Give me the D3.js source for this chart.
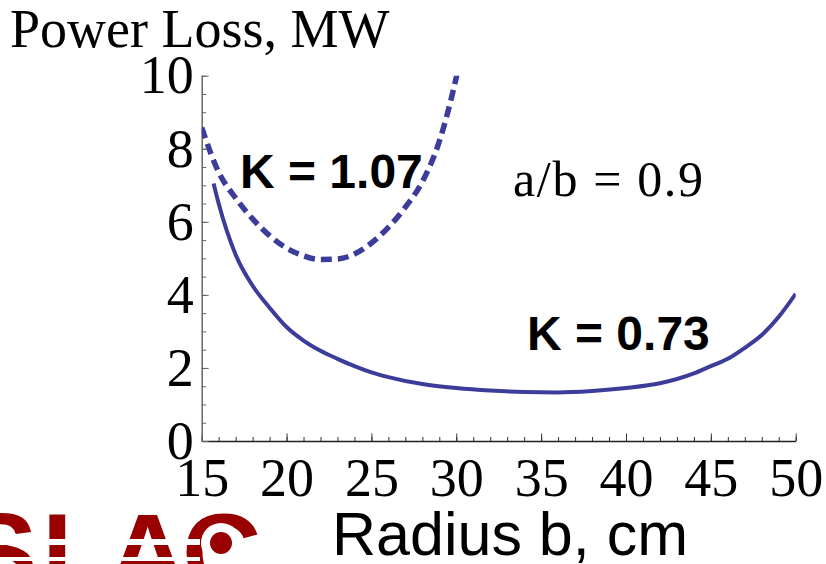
<!DOCTYPE html>
<html>
<head>
<meta charset="utf-8">
<script src="https://cdn.jsdelivr.net/npm/d3@7"></script>
<style>
  body { margin: 0; background: #fff; }
  svg { display: block; }
</style>
</head>
<body>
<div id="chart"></div>
<script>
// radius b (cm) and power loss (MW)
var radiusK073 = [15.7, 16, 17, 18, 19, 20, 21, 22, 23, 24, 25, 26, 28, 30, 32, 34, 36, 38, 40, 42, 44, 45, 46, 47, 48, 49, 50];
var lossK073   = [7.05, 6.5, 5.1, 4.25, 3.65, 3.12, 2.75, 2.47, 2.25, 2.05, 1.88, 1.75, 1.56, 1.45, 1.38, 1.34, 1.33, 1.37, 1.45, 1.58, 1.85, 2.05, 2.25, 2.55, 2.9, 3.4, 4.03];

var radiusK107 = [15, 16, 17, 18, 19, 20, 21, 22, 23, 24, 25, 26, 27, 28, 29, 29.5, 30, 30.5];
var lossK107   = [8.58, 7.36, 6.65, 6.08, 5.62, 5.28, 5.07, 4.97, 4.98, 5.12, 5.42, 5.85, 6.4, 7.1, 8.2, 9.0, 9.95, 11];

var xTickLabels = [15, 20, 25, 30, 35, 40, 45, 50];
var yTickLabels = [0, 2, 4, 6, 8, 10];

var width = 826, height = 564;
var lineColor = "#3c3c9a";

var svg = d3.select("#chart").append("svg")
    .attr("width", width)
    .attr("height", height);

var x = d3.scaleLinear().domain([15, 50]).range([201.7, 795.7]);
var y = d3.scaleLinear().domain([0, 10]).range([441, 75.7]);

// clip so curves stay inside the plot box
svg.append("clipPath").attr("id", "plotclip")
    .append("rect")
    .attr("x", x(15)).attr("y", y(10))
    .attr("width", x(50) - x(15)).attr("height", y(0) - y(10));

// minor ticks (no labels)
svg.append("g")
    .attr("transform", "translate(0," + y(0) + ")")
    .call(d3.axisBottom(x).tickValues(d3.range(15, 51, 1)).tickSizeInner(-4).tickSizeOuter(0).tickFormat(""))
    .call(function(g) { g.select(".domain").remove(); g.selectAll("line").attr("stroke", "#333"); });

svg.append("g")
    .attr("transform", "translate(" + x(15) + ",0)")
    .call(d3.axisLeft(y).tickValues(d3.range(0, 10.01, 0.5)).tickSizeInner(-4.5).tickSizeOuter(0).tickFormat(""))
    .call(function(g) { g.select(".domain").remove(); g.selectAll("line").attr("stroke", "#666"); });

// major ticks + labels
var xAxis = svg.append("g")
    .attr("transform", "translate(0," + y(0) + ")")
    .call(d3.axisBottom(x).tickValues(xTickLabels).tickSizeInner(-7.5).tickSizeOuter(0).tickPadding(17));
xAxis.select(".domain").attr("stroke", "#222").attr("stroke-width", 1.5);
xAxis.selectAll("line").attr("stroke", "#333");
xAxis.selectAll("text")
    .attr("font-family", "'Liberation Serif', 'Times New Roman', serif")
    .attr("font-size", 54).attr("fill", "#000");

var yAxis = svg.append("g")
    .attr("transform", "translate(" + x(15) + ",0)")
    .call(d3.axisLeft(y).tickValues(yTickLabels).tickSizeInner(-7).tickSizeOuter(0).tickPadding(8));
yAxis.select(".domain").attr("stroke", "#666").attr("stroke-width", 1.5);
yAxis.selectAll("line").attr("stroke", "#666");
yAxis.selectAll("text")
    .attr("font-family", "'Liberation Serif', 'Times New Roman', serif")
    .attr("font-size", 54).attr("fill", "#000");

// curves
var line = d3.line()
    .x(function(d) { return x(d[0]); })
    .y(function(d) { return y(d[1]); })
    .curve(d3.curveMonotoneX);

var plot = svg.append("g").attr("clip-path", "url(#plotclip)");

plot.append("path")
    .datum(d3.zip(radiusK073, lossK073))
    .attr("d", line)
    .attr("fill", "none")
    .attr("stroke", lineColor)
    .attr("stroke-width", 4);

plot.append("path")
    .datum(d3.zip(radiusK107, lossK107))
    .attr("d", line)
    .attr("fill", "none")
    .attr("stroke", lineColor)
    .attr("stroke-width", 5.5)
    .attr("stroke-dasharray", "11,6");

// labels
svg.append("text")
    .attr("x", 10).attr("y", 47)
    .attr("font-family", "'Liberation Serif', 'Times New Roman', serif")
    .attr("font-size", 54)
    .text("Power Loss, MW");

svg.append("text")
    .attr("x", 332).attr("y", 555)
    .attr("font-family", "'Liberation Sans', Arial, sans-serif")
    .attr("font-size", 61)
    .text("Radius b, cm");

svg.append("text")
    .attr("x", 240).attr("y", 188)
    .attr("font-family", "'Liberation Sans', Arial, sans-serif")
    .attr("font-weight", "bold")
    .attr("font-size", 48)
    .text("K = 1.07");

svg.append("text")
    .attr("x", 527).attr("y", 350)
    .attr("font-family", "'Liberation Sans', Arial, sans-serif")
    .attr("font-weight", "bold")
    .attr("font-size", 48)
    .text("K = 0.73");

svg.append("text")
    .attr("x", 513).attr("y", 196)
    .attr("font-family", "'Liberation Serif', 'Times New Roman', serif")
    .attr("font-size", 50)
    .text("a/b = 0.9")
    .attr("textLength", 190);

// SLAC logo, cut off at the bottom left
var logo = svg.append("g");
var logoLetters = [["S", -36], ["L", 42], ["A", 108], ["C", 182]];
logo.selectAll("text")
    .data(logoLetters)
    .enter()
    .append("text")
    .attr("x", function(d) { return d[1]; })
    .attr("y", 590)
    .attr("font-family", "'Liberation Sans', Arial, sans-serif")
    .attr("font-weight", "bold")
    .attr("font-size", 110)
    .attr("fill", "#990000")
    .text(function(d) { return d[0]; });
logo.append("rect").attr("x", 0).attr("y", 539).attr("width", 200).attr("height", 6).attr("fill", "#fff");
logo.append("rect").attr("x", 0).attr("y", 557).attr("width", 200).attr("height", 4).attr("fill", "#fff");
logo.append("circle").attr("cx", 221).attr("cy", 543).attr("r", 20).attr("fill", "#fff");
logo.append("circle").attr("cx", 221).attr("cy", 543).attr("r", 11).attr("fill", "#990000");
</script>
</body>
</html>
